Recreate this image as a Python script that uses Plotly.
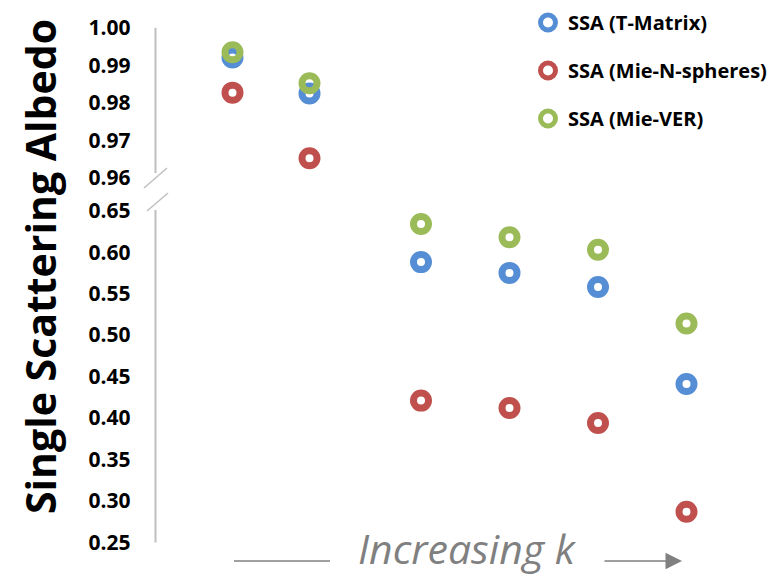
import plotly.graph_objects as go

# ---- data ----
k_top = [1, 2]
k_bottom = [3, 4, 5, 6]
ssa_tmatrix_top = [0.9921, 0.9825]
ssa_mie_n_top = [0.9827, 0.9652]
ssa_mie_ver_top = [0.9935, 0.9852]
ssa_tmatrix_bottom = [0.588, 0.575, 0.558, 0.441]
ssa_mie_n_bottom = [0.421, 0.412, 0.394, 0.287]
ssa_mie_ver_bottom = [0.634, 0.618, 0.603, 0.514]
top_ticks = [0.96, 0.97, 0.98, 0.99, 1.00]
bottom_ticks = [0.25, 0.30, 0.35, 0.40, 0.45, 0.50, 0.55, 0.60, 0.65]
series_names = ["SSA (T-Matrix)", "SSA (Mie-N-spheres)", "SSA (Mie-VER)"]
colors = ["#558ED5", "#C0504D", "#9BBB59"]

# the page has an 8px body margin, so the figure is sized to fill the rest of the window
OFF = 8
W, H = 783 - OFF, 579 - OFF
FONT = "'Open Sans', Lato, sans-serif"

def px(x):
    return (x - OFF) / W

def py(y):
    return 1 - (y - OFF) / H

fig = go.Figure()

tops = [ssa_tmatrix_top, ssa_mie_n_top, ssa_mie_ver_top]
bots = [ssa_tmatrix_bottom, ssa_mie_n_bottom, ssa_mie_ver_bottom]
for i, name in enumerate(series_names):
    mk = dict(symbol="circle-open", size=15, color=colors[i], line=dict(width=7, color=colors[i]))
    fig.add_trace(go.Scatter(x=k_top, y=tops[i], mode="markers", marker=mk, name=name,
                             legendgroup=name, showlegend=True, xaxis="x", yaxis="y"))
    fig.add_trace(go.Scatter(x=k_bottom, y=bots[i], mode="markers", marker=mk, name=name,
                             legendgroup=name, showlegend=False, xaxis="x2", yaxis="y2"))

x0 = 155.5
right_edge = 783
tickfont = dict(family=FONT, size=21, color="#000000", weight="bold")
fig.update_layout(
    width=W, height=H,
    margin=dict(l=0, r=0, t=0, b=0, pad=0, autoexpand=False),
    paper_bgcolor="white", plot_bgcolor="rgba(0,0,0,0)",
    showlegend=True,
    legend=dict(x=px(528), y=py(3), xanchor="left", yanchor="top",
                font=dict(family=FONT, size=20, color="#000000", weight="bold"),
                tracegroupgap=19, bgcolor="rgba(0,0,0,0)", itemsizing="trace"),
    xaxis=dict(domain=[px(x0), 1], range=[0, (right_edge - x0) / 77.0], visible=False, anchor="y"),
    xaxis2=dict(domain=[px(x0), 1], range=[0, (right_edge - x0) / 88.5], visible=False, anchor="y2"),
    yaxis=dict(domain=[py(177.7), py(27.8)], range=[0.96, 1.00], tickvals=top_ticks,
               ticktext=["%.2f" % v for v in top_ticks], tickfont=tickfont,
               showgrid=False, zeroline=False, showline=False, ticks="",
               ticklabelstandoff=24, anchor="x", automargin=False),
    yaxis2=dict(domain=[py(542.4), py(210.7)], range=[0.25, 0.65], tickvals=bottom_ticks,
                ticktext=["%.2f" % v for v in bottom_ticks], tickfont=tickfont,
                showgrid=False, zeroline=False, showline=False, ticks="",
                ticklabelstandoff=24, anchor="x2", automargin=False),
)

axis_color = "#BFBFBF"
# axis lines (broken)
fig.add_shape(type="line", xref="paper", yref="paper", x0=px(x0), x1=px(x0),
              y0=py(27.8), y1=py(173), line=dict(color=axis_color, width=2))
fig.add_shape(type="line", xref="paper", yref="paper", x0=px(x0), x1=px(x0),
              y0=py(210), y1=py(542.4), line=dict(color=axis_color, width=2))
# break slashes
fig.add_shape(type="line", xref="paper", yref="paper", x0=px(144), x1=px(167),
              y0=py(188), y1=py(168), line=dict(color=axis_color, width=1.5))
fig.add_shape(type="line", xref="paper", yref="paper", x0=px(147), x1=px(168),
              y0=py(211), y1=py(193), line=dict(color=axis_color, width=1.5))

# y axis title
fig.add_annotation(text="Single Scattering Albedo", textangle=-90, xref="paper", yref="paper",
                   x=px(40), y=py(267), showarrow=False, xanchor="center", yanchor="middle",
                   font=dict(family=FONT, size=41, color="#000000", weight="bold"))

# x axis label with arrow
grey = "#808080"
fig.add_annotation(text="<i>Increasing k</i>", xref="paper", yref="paper",
                   x=px(467), y=py(548), showarrow=False, xanchor="center", yanchor="middle",
                   font=dict(family=FONT, size=41, color=grey))
fig.add_shape(type="line", xref="paper", yref="paper", x0=px(234), x1=px(330),
              y0=py(561), y1=py(561), line=dict(color=grey, width=1.5))
fig.add_annotation(text="", xref="paper", yref="paper", x=px(682), y=py(561),
                   ax=-79, ay=0, showarrow=True, arrowhead=2, arrowsize=2.2,
                   arrowwidth=1.5, arrowcolor=grey)

fig.write_html("out.html")
